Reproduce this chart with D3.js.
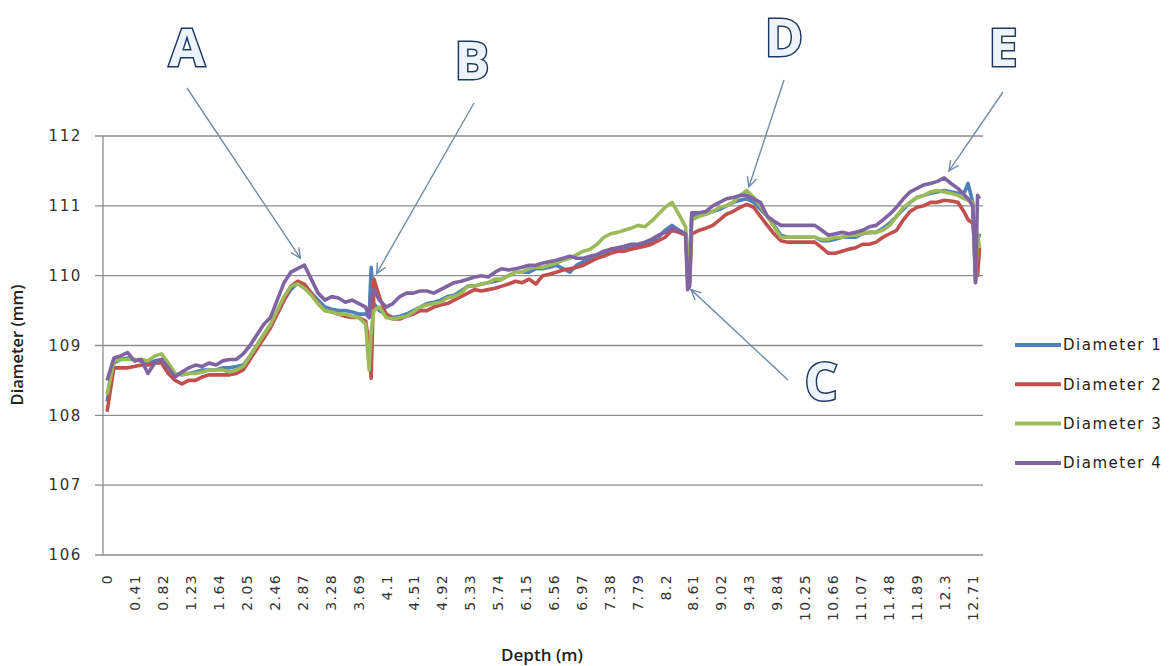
<!DOCTYPE html>
<html>
<head>
<meta charset="utf-8">
<style>
  body { margin: 0; background: #fff; }
  svg { display: block; }
</style>
</head>
<body>
<div id="chart"></div>
<script src="https://d3js.org/d3.v7.min.js"></script>
<script>
var W = 1170, H = 666;

// depth (m) of each reading
var depth = [
  0, 0.1, 0.2, 0.3, 0.4, 0.5, 0.6, 0.7, 0.8, 0.9,
  1.0, 1.1, 1.2, 1.3, 1.4, 1.5, 1.6, 1.7, 1.8, 1.9,
  2.0, 2.1, 2.2, 2.3, 2.4, 2.5, 2.6, 2.7, 2.8, 2.9,
  3.0, 3.1, 3.2, 3.3, 3.4, 3.5, 3.6, 3.7, 3.8,
  3.85, 3.88, 3.92,
  4.0, 4.1, 4.2, 4.3, 4.4, 4.5, 4.6, 4.7, 4.8, 4.9,
  5.0, 5.1, 5.2, 5.3, 5.4, 5.5, 5.6, 5.7, 5.8, 5.9,
  6.0, 6.1, 6.2, 6.3, 6.4, 6.5, 6.6, 6.7, 6.8, 6.9,
  7.0, 7.1, 7.2, 7.3, 7.4, 7.5, 7.6, 7.7, 7.8, 7.9,
  8.0, 8.1, 8.2, 8.3, 8.4, 8.5,
  8.53, 8.56, 8.59,
  8.7, 8.8, 8.9, 9.0, 9.1, 9.2, 9.3, 9.4, 9.5, 9.6,
  9.7, 9.8, 9.9, 10.0, 10.1, 10.2, 10.3, 10.4, 10.5, 10.6,
  10.7, 10.8, 10.9, 11.0, 11.1, 11.2, 11.3, 11.4, 11.5, 11.6,
  11.7, 11.8, 11.9, 12.0, 12.1, 12.2, 12.3, 12.4, 12.5, 12.6,
  12.65, 12.72, 12.76, 12.79, 12.82
];

var diameter1 = [
  108.2, 108.75, 108.8, 108.82, 108.8, 108.78, 108.75, 108.78, 108.8, 108.7,
  108.6, 108.58, 108.6, 108.62, 108.65, 108.65, 108.65, 108.68, 108.68, 108.7,
  108.72, 108.85, 109.0, 109.15, 109.3, 109.45, 109.65, 109.8, 109.9, 109.85,
  109.75, 109.65, 109.55, 109.52, 109.5, 109.5, 109.48, 109.45, 109.45,
  109.4, 110.12, 109.6,
  109.5, 109.45, 109.4, 109.42, 109.45, 109.5, 109.55, 109.6, 109.62, 109.65,
  109.7, 109.72, 109.78, 109.85, 109.85, 109.88, 109.9, 109.92, 109.95, 110.0,
  110.05, 110.05, 110.05, 110.1, 110.1, 110.12, 110.15, 110.1, 110.05, 110.15,
  110.2, 110.25, 110.3, 110.32, 110.35, 110.38, 110.4, 110.42, 110.42, 110.45,
  110.48, 110.55, 110.65, 110.72, 110.65, 110.6,
  109.95, 110.3, 110.85,
  110.88, 110.9, 110.92, 110.95, 111.0, 111.05, 111.08, 111.1, 111.05, 110.95,
  110.85, 110.72, 110.58, 110.55, 110.55, 110.55, 110.55, 110.55, 110.5, 110.5,
  110.52, 110.55, 110.55, 110.55, 110.6, 110.62, 110.62, 110.68, 110.75, 110.85,
  110.95, 111.05, 111.12, 111.15, 111.18, 111.2, 111.22, 111.2, 111.18, 111.2,
  111.32, 111.05, 109.95, 110.5, 110.6
];

var diameter2 = [
  108.05, 108.68, 108.68, 108.68, 108.7, 108.72, 108.72, 108.75, 108.75, 108.6,
  108.5, 108.45, 108.5, 108.5, 108.55, 108.58, 108.58, 108.58, 108.58, 108.6,
  108.65, 108.8, 108.95, 109.1, 109.25, 109.45, 109.65, 109.85, 109.92, 109.88,
  109.75, 109.6, 109.5, 109.48, 109.45, 109.42, 109.4, 109.4, 109.35,
  109.0, 108.53, 109.95,
  109.7, 109.45, 109.38, 109.38, 109.42, 109.45, 109.5, 109.5, 109.55, 109.58,
  109.6, 109.65, 109.7, 109.75, 109.8, 109.78, 109.8, 109.82, 109.85, 109.88,
  109.92, 109.9, 109.95, 109.88, 110.0, 110.02, 110.05, 110.08, 110.1, 110.12,
  110.15, 110.2, 110.25, 110.28, 110.32, 110.35, 110.35, 110.38, 110.4, 110.42,
  110.45, 110.5, 110.55, 110.65, 110.62, 110.58,
  110.1, 109.9, 110.6,
  110.65, 110.68, 110.72, 110.8, 110.88, 110.92, 110.98, 111.02, 110.98, 110.85,
  110.72, 110.6, 110.5, 110.48, 110.48, 110.48, 110.48, 110.48, 110.4, 110.32,
  110.32, 110.35, 110.38, 110.4, 110.45, 110.45, 110.48, 110.55, 110.6, 110.65,
  110.8, 110.92, 110.98, 111.0, 111.05, 111.05, 111.08, 111.07, 111.05, 110.9,
  110.8, 110.75, 110.3, 110.0, 110.4
];

var diameter3 = [
  108.3, 108.78, 108.8, 108.8, 108.8, 108.8, 108.78, 108.85, 108.88, 108.75,
  108.6, 108.58, 108.6, 108.6, 108.62, 108.65, 108.65, 108.65, 108.62, 108.65,
  108.7, 108.85, 109.0, 109.15, 109.3, 109.5, 109.7, 109.85, 109.88, 109.82,
  109.72, 109.6, 109.5, 109.48, 109.45, 109.45, 109.42, 109.4, 109.3,
  108.65, 109.2, 109.5,
  109.55, 109.4, 109.38, 109.4, 109.42, 109.48, 109.55, 109.58, 109.6, 109.62,
  109.68, 109.7, 109.75, 109.85, 109.85, 109.88, 109.9, 109.95, 109.95, 110.0,
  110.05, 110.05, 110.1, 110.12, 110.12, 110.15, 110.18, 110.22, 110.25, 110.3,
  110.35, 110.38, 110.45, 110.55, 110.6, 110.62, 110.65, 110.68, 110.72, 110.7,
  110.78, 110.88, 110.98, 111.05, 110.88, 110.7,
  110.3, 109.95, 110.8,
  110.85, 110.88, 110.92, 110.98, 111.0, 111.05, 111.15, 111.22, 111.12, 111.0,
  110.85, 110.7, 110.55, 110.55, 110.55, 110.55, 110.55, 110.55, 110.52, 110.52,
  110.55, 110.55, 110.58, 110.58, 110.6, 110.62, 110.62, 110.65, 110.72, 110.85,
  110.98, 111.05, 111.12, 111.15, 111.2, 111.22, 111.2, 111.18, 111.15, 111.1,
  111.08, 111.05, 109.9, 110.6, 110.4
];

var diameter4 = [
  108.5, 108.82, 108.85, 108.9, 108.78, 108.8, 108.6, 108.75, 108.8, 108.68,
  108.55, 108.62, 108.68, 108.72, 108.7, 108.75, 108.72, 108.78, 108.8, 108.8,
  108.88, 109.0, 109.15, 109.3, 109.4, 109.65, 109.9, 110.05, 110.1, 110.15,
  109.95, 109.75, 109.65, 109.7, 109.68, 109.62, 109.65, 109.6, 109.55,
  109.4, 109.7, 109.8,
  109.65, 109.55, 109.6, 109.7, 109.75, 109.75, 109.78, 109.78, 109.75, 109.8,
  109.85, 109.9, 109.92, 109.95, 109.98, 110.0, 109.98, 110.05, 110.1, 110.08,
  110.1, 110.12, 110.15, 110.15, 110.18, 110.2, 110.22, 110.25, 110.28, 110.25,
  110.25, 110.28, 110.3, 110.35, 110.38, 110.4, 110.42, 110.45, 110.45, 110.48,
  110.52, 110.58, 110.62, 110.68, 110.65, 110.6,
  109.8, 109.85, 110.9,
  110.9, 110.92, 111.0, 111.05, 111.1, 111.12, 111.15, 111.15, 111.1, 111.05,
  110.85, 110.78, 110.72, 110.72, 110.72, 110.72, 110.72, 110.72, 110.65, 110.58,
  110.6, 110.62, 110.6, 110.62, 110.65, 110.7, 110.72, 110.8, 110.88, 110.98,
  111.1, 111.2, 111.25, 111.3, 111.32, 111.35, 111.4, 111.32, 111.25, 111.15,
  111.1, 111.0, 109.9, 111.15, 111.1
];

var seriesNames = ["Diameter 1", "Diameter 2", "Diameter 3", "Diameter 4"];
var seriesColors = ["#4f81bd", "#c0504d", "#9bbb59", "#8064a2"];

var xTickLabels = ["0", "0.41", "0.82", "1.23", "1.64", "2.05", "2.46", "2.87", "3.28", "3.69",
  "4.1", "4.51", "4.92", "5.33", "5.74", "6.15", "6.56", "6.97", "7.38", "7.79", "8.2",
  "8.61", "9.02", "9.43", "9.84", "10.25", "10.66", "11.07", "11.48", "11.89", "12.3", "12.71"];
var yTicks = [106, 107, 108, 109, 110, 111, 112];

// annotation letters: [label, depth, diameter of arrow tip, text x, text y, arrow start x, arrow start y]
var notes = [
  ["A", 2.84, 110.25, 187, 47, 187, 88],
  ["B", 3.96, 110.03, 472, 60, 474, 103],
  ["C", 8.58, 109.8, 821, 381, 788, 380],
  ["D", 9.43, 111.27, 784, 37, 784, 80],
  ["E", 12.37, 111.5, 1003, 47, 1003, 92]
];

var svg = d3.select("#chart").append("svg").attr("width", W).attr("height", H);

var x = d3.scaleLinear().domain([-0.06, 12.87]).range([103, 983]);
var y = d3.scaleLinear().domain([106, 112]).range([555, 136]);

// grid lines
svg.append("g").selectAll("line").data(yTicks).enter().append("line")
  .attr("x1", 95).attr("x2", 983)
  .attr("y1", function (d) { return y(d); })
  .attr("y2", function (d) { return y(d); })
  .attr("stroke", "#8d8d8d").attr("stroke-width", 1.3);

// y axis
var yAxis = d3.axisLeft(y).tickValues(yTicks).tickSize(0).tickPadding(13).tickFormat(d3.format("d"));
var gy = svg.append("g").attr("transform", "translate(95,0)").call(yAxis);
gy.select(".domain").remove();
gy.selectAll("text")
  .attr("font-family", "DejaVu Sans").attr("font-size", 15)
  .attr("letter-spacing", 1.6).attr("fill", "#333");

svg.append("line").attr("x1", 103).attr("x2", 103).attr("y1", 136).attr("y2", 555)
  .attr("stroke", "#8d8d8d").attr("stroke-width", 1.3);

// x axis
var xAxis = d3.axisBottom(x)
  .tickValues(xTickLabels.map(Number))
  .tickFormat(function (d, i) { return xTickLabels[i]; })
  .tickSize(0);
var gx = svg.append("g").attr("transform", "translate(0,555)").call(xAxis);
gx.select(".domain").remove();
gx.selectAll("text")
  .attr("font-family", "DejaVu Sans").attr("font-size", 14)
  .attr("letter-spacing", 1.4).attr("fill", "#333")
  .attr("transform", "rotate(-90)")
  .attr("text-anchor", "end")
  .attr("x", -19).attr("y", 0).attr("dy", "0.35em");

// series lines
var line = d3.line()
  .x(function (d) { return x(d[0]); })
  .y(function (d) { return y(d[1]); });

var series = [diameter1, diameter2, diameter3, diameter4];
svg.append("g").selectAll("path").data(series).enter().append("path")
  .attr("d", function (s) { return line(s.map(function (v, i) { return [depth[i], v]; })); })
  .attr("fill", "none")
  .attr("stroke", function (s, i) { return seriesColors[i]; })
  .attr("stroke-width", 3.6)
  .attr("stroke-linejoin", "round");

// axis titles
svg.append("text").text("Diameter (mm)")
  .attr("transform", "translate(23,345) rotate(-90)")
  .attr("text-anchor", "middle")
  .attr("font-family", "Open Sans").attr("font-weight", 600).attr("font-size", 16.5)
  .attr("fill", "#222");

svg.append("text").text("Depth (m)")
  .attr("x", 542).attr("y", 661)
  .attr("text-anchor", "middle")
  .attr("font-family", "Open Sans").attr("font-weight", 600).attr("font-size", 17)
  .attr("fill", "#222");

// legend
var legend = svg.append("g").selectAll("g").data(seriesNames).enter().append("g")
  .attr("transform", function (d, i) { return "translate(1015," + (345 + i * 39.3) + ")"; });
legend.append("line").attr("x1", 0).attr("x2", 46)
  .attr("stroke", function (d, i) { return seriesColors[i]; })
  .attr("stroke-width", 4);
legend.append("text").text(function (d) { return d; })
  .attr("x", 48).attr("dy", "0.35em")
  .attr("font-family", "DejaVu Sans").attr("font-size", 15)
  .attr("letter-spacing", 1.5).attr("fill", "#222");

// arrows
function arrowHead(x1, y1, x2, y2) {
  var a = Math.atan2(y2 - y1, x2 - x1), len = 11, spread = 0.45;
  return "M" + (x2 - len * Math.cos(a - spread)) + "," + (y2 - len * Math.sin(a - spread)) +
    "L" + x2 + "," + y2 +
    "L" + (x2 - len * Math.cos(a + spread)) + "," + (y2 - len * Math.sin(a + spread));
}

var ann = svg.append("g");
notes.forEach(function (n) {
  var tx = x(n[1]), ty = y(n[2]);
  ann.append("line").attr("x1", n[5]).attr("y1", n[6]).attr("x2", tx).attr("y2", ty)
    .attr("stroke", "#6f8cab").attr("stroke-width", 1.4);
  ann.append("path").attr("d", arrowHead(n[5], n[6], tx, ty))
    .attr("fill", "none").attr("stroke", "#6f8cab").attr("stroke-width", 1.4);
  ann.append("text").text(n[0])
    .attr("x", n[3]).attr("y", n[4]).attr("dy", "0.36em")
    .attr("text-anchor", "middle")
    .attr("font-family", "Open Sans").attr("font-weight", 700).attr("font-size", 52)
    .attr("fill", "#eef4fb").attr("stroke", "#1f3a64").attr("stroke-width", 3)
    .attr("paint-order", "stroke");
});
</script>
</body>
</html>
